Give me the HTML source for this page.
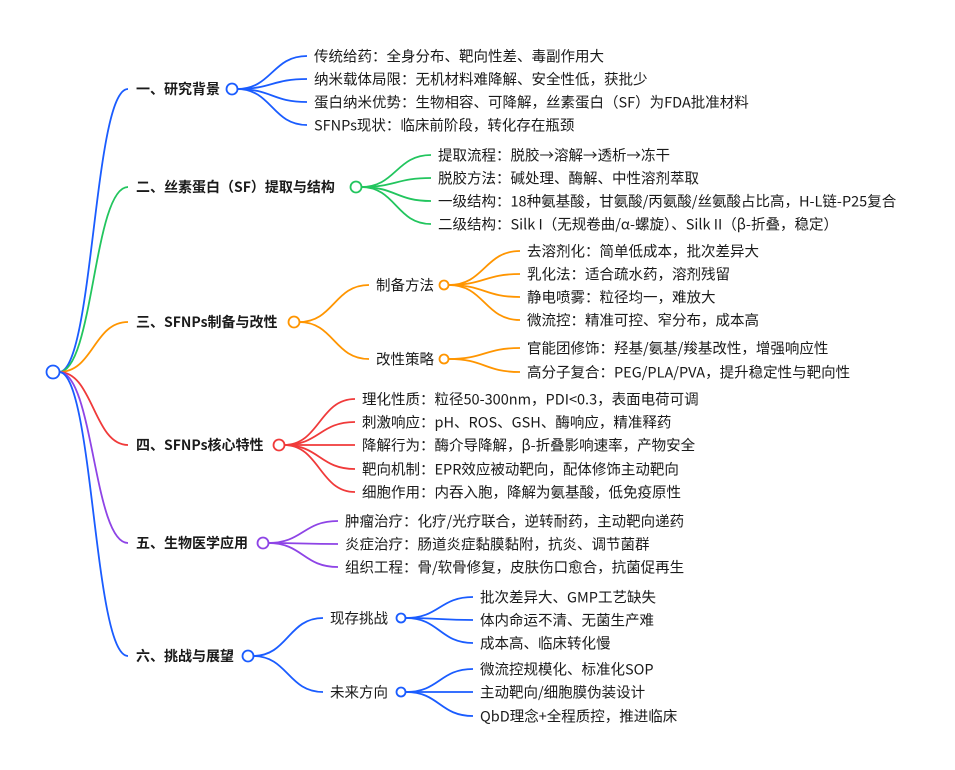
<!DOCTYPE html>
<html><head><meta charset="utf-8"><style>
html,body{margin:0;padding:0;background:#fff;}
svg{display:block;}
text{font-family:"Noto Sans CJK SC","Liberation Sans",sans-serif;font-size:14.5px;fill:#1a1a1a;dominant-baseline:central;}
.b{font-weight:bold;font-size:14px;}
path{fill:none;stroke-width:1.8;}
circle{fill:#fff;stroke-width:1.8;}
</style></head><body>
<svg id="s" width="955" height="770" viewBox="0 0 955 770">
<g id="lines"></g>
<g>
<text class="b" x="136" y="89">一、研究背景</text>
<text x="314" y="56">传统给药：全身分布、靶向性差、毒副作用大</text>
<text x="314" y="79">纳米载体局限：无机材料难降解、安全性低，获批少</text>
<text x="314" y="102">蛋白纳米优势：生物相容、可降解，丝素蛋白（SF）为FDA批准材料</text>
<text x="314" y="125">SFNPs现状：临床前阶段，转化存在瓶颈</text>

<text class="b" x="136" y="187">二、丝素蛋白（SF）提取与结构</text>
<text x="438" y="155">提取流程：脱胶→溶解→透析→冻干</text>
<text x="438" y="178">脱胶方法：碱处理、酶解、中性溶剂萃取</text>
<text x="438" y="201">一级结构：18种氨基酸，甘氨酸/丙氨酸/丝氨酸占比高，H-L链-P25复合</text>
<text x="438" y="224">二级结构：Silk I（无规卷曲/α-螺旋）、Silk II（β-折叠，稳定）</text>

<text class="b" x="136" y="322">三、SFNPs制备与改性</text>
<text x="376" y="285">制备方法</text>
<text x="376" y="359">改性策略</text>
<text x="527" y="251">去溶剂化：简单低成本，批次差异大</text>
<text x="527" y="274">乳化法：适合疏水药，溶剂残留</text>
<text x="527" y="297">静电喷雾：粒径均一，难放大</text>
<text x="527" y="320">微流控：精准可控、窄分布，成本高</text>
<text x="527" y="348">官能团修饰：羟基/氨基/羧基改性，增强响应性</text>
<text x="527" y="372">高分子复合：PEG/PLA/PVA，提升稳定性与靶向性</text>

<text class="b" x="136" y="445">四、SFNPs核心特性</text>
<text x="362" y="399">理化性质：粒径50-300nm，PDI&lt;0.3，表面电荷可调</text>
<text x="362" y="422">刺激响应：pH、ROS、GSH、酶响应，精准释药</text>
<text x="362" y="445">降解行为：酶介导降解，β-折叠影响速率，产物安全</text>
<text x="362" y="469">靶向机制：EPR效应被动靶向，配体修饰主动靶向</text>
<text x="362" y="492">细胞作用：内吞入胞，降解为氨基酸，低免疫原性</text>

<text class="b" x="136" y="543">五、生物医学应用</text>
<text x="345" y="521">肿瘤治疗：化疗/光疗联合，逆转耐药，主动靶向递药</text>
<text x="345" y="544">炎症治疗：肠道炎症黏膜黏附，抗炎、调节菌群</text>
<text x="345" y="567">组织工程：骨/软骨修复，皮肤伤口愈合，抗菌促再生</text>

<text class="b" x="136" y="656">六、挑战与展望</text>
<text x="330" y="618">现存挑战</text>
<text x="330" y="692">未来方向</text>
<text x="480" y="597">批次差异大、GMP工艺缺失</text>
<text x="480" y="620">体内命运不清、无菌生产难</text>
<text x="480" y="643">成本高、临床转化慢</text>
<text x="480" y="669">微流控规模化、标准化SOP</text>
<text x="480" y="692">主动靶向/细胞膜伪装设计</text>
<text x="480" y="716">QbD理念+全程质控，推进临床</text>
</g>
<g id="circ"></g>
</svg>
<script>
var L=document.getElementById('lines'),C=document.getElementById('circ'),NS='http://www.w3.org/2000/svg';
function p(x1,y1,x2,y2,c){var e=document.createElementNS(NS,'path');var m=(x2-x1)/2;
e.setAttribute('d','M'+x1+','+y1+' C'+(x1+m)+','+y1+' '+(x2-m)+','+y2+' '+x2+','+y2);e.setAttribute('stroke',c);L.appendChild(e);}
function c(x,y,r,col){var e=document.createElementNS(NS,'circle');e.setAttribute('cx',x);e.setAttribute('cy',y);e.setAttribute('r',r);e.setAttribute('stroke',col);C.appendChild(e);}
var B='#1a5cff',G='#22c55e',O='#ff9500',R='#f03a3a',P='#8e44e6';
var S=[[89,B,232,307,[56,79,102,125]],[187,G,356,431,[155,178,201,224]],[322,O,294],[445,R,279,355,[399,422,445,469,492]],[543,P,263,338,[521,544,567]],[656,B,248]];
S.forEach(function(s){p(59,372,128,s[0],s[1]);c(s[2],s[0],5.5,s[1]);
 if(s[3]){s[4].forEach(function(y){p(s[2]+5,s[0],s[3],y,s[1]);});}});
p(299,322,369,285,O);p(299,322,369,359,O);c(444,285,4.5,O);c(444,359,4.5,O);
[251,274,297,320].forEach(function(y){p(449,285,520,y,O);});
[348,372].forEach(function(y){p(449,359,520,y,O);});
p(253,656,323,618,B);p(253,656,323,692,B);c(401,618,4.5,B);c(401,692,4.5,B);
[597,620,643].forEach(function(y){p(406,618,473,y,B);});
[669,692,716].forEach(function(y){p(406,692,473,y,B);});
c(53,372,6.5,B);
</script>
</body></html>
